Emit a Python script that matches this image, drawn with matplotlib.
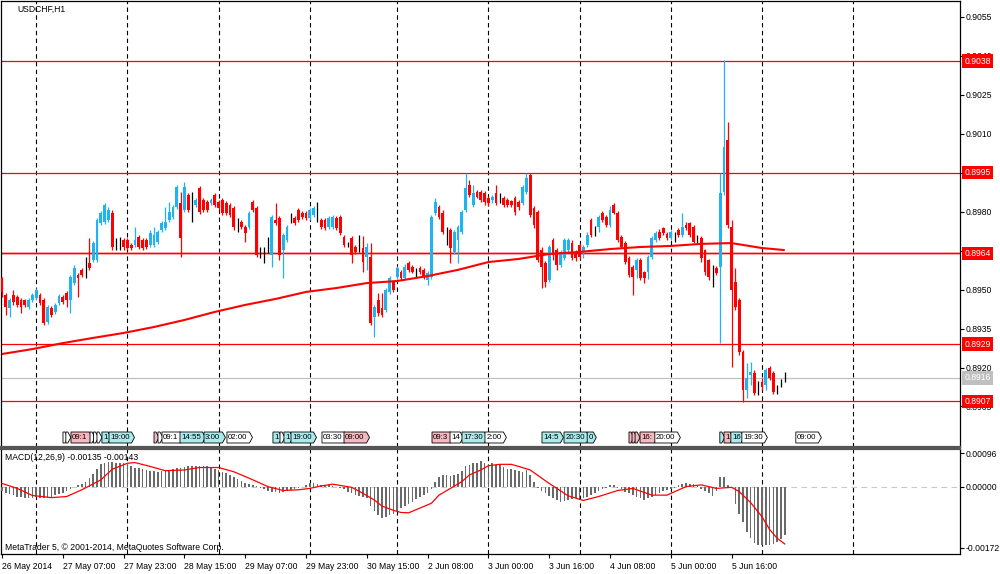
import matplotlib
matplotlib.use('Agg')
import matplotlib.pyplot as plt
import matplotlib.transforms as mtrans
from matplotlib.patches import Polygon
import numpy as np

plt.rcParams['font.family'] = ['Liberation Sans', 'DejaVu Sans']

# ---------------- data ----------------
title_text = "USDCHF,H1"

opens = [0.89545, 0.89479, 0.89429, 0.89479, 0.89472, 0.89460, 0.89460, 0.89433, 0.89460, 0.89468,
         0.89479, 0.89460, 0.89375, 0.89429, 0.89414, 0.89448, 0.89472, 0.89487, 0.89460, 0.89525,
         0.89556, 0.89576, 0.89583, 0.89602, 0.89614, 0.89614, 0.89756, 0.89760, 0.89768, 0.89795,
         0.89664, 0.89672, 0.89691, 0.89691, 0.89672, 0.89672, 0.89703, 0.89691, 0.89691, 0.89672,
         0.89672, 0.89683, 0.89730, 0.89737, 0.89768, 0.89780, 0.89818, 0.89833, 0.89807, 0.89864,
         0.89826, 0.89826, 0.89891, 0.89845, 0.89837, 0.89833, 0.89864, 0.89837, 0.89845, 0.89833,
         0.89826, 0.89814, 0.89749, 0.89760, 0.89741, 0.89741, 0.89837, 0.89814, 0.89633, 0.89652,
         0.89691, 0.89633, 0.89768, 0.89776, 0.89652, 0.89691, 0.89776, 0.89776, 0.89807, 0.89795,
         0.89795, 0.89776, 0.89787, 0.89807, 0.89768, 0.89768, 0.89741, 0.89741, 0.89776, 0.89780,
         0.89703, 0.89672, 0.89699, 0.89664, 0.89652, 0.89660, 0.89626, 0.89626, 0.89395, 0.89460,
         0.89429, 0.89422, 0.89491, 0.89529, 0.89549, 0.89568, 0.89545, 0.89602, 0.89587, 0.89568,
         0.89583, 0.89576, 0.89537, 0.89549, 0.89795, 0.89818, 0.89795, 0.89710, 0.89730, 0.89645,
         0.89691, 0.89722, 0.89807, 0.89903, 0.89826, 0.89876, 0.89876, 0.89872, 0.89853, 0.89845,
         0.89872, 0.89857, 0.89853, 0.89845, 0.89841, 0.89853, 0.89837, 0.89833, 0.89876, 0.89941,
         0.89814, 0.89799, 0.89652, 0.89602, 0.89537, 0.89691, 0.89652, 0.89595, 0.89622, 0.89652,
         0.89679, 0.89645, 0.89672, 0.89645, 0.89672, 0.89768, 0.89730, 0.89741, 0.89795, 0.89780,
         0.89749, 0.89826, 0.89795, 0.89703, 0.89679, 0.89622, 0.89587, 0.89576, 0.89614, 0.89568,
         0.89568, 0.89626, 0.89691, 0.89722, 0.89737, 0.89714, 0.89699, 0.89710, 0.89730, 0.89710,
         0.89749, 0.89756, 0.89741, 0.89691, 0.89699, 0.89652, 0.89614, 0.89556, 0.89583, 0.89587,
         0.89876, 0.90076, 0.89741, 0.89529, 0.89460, 0.89260, 0.89114, 0.89171, 0.89179, 0.89121,
         0.89144, 0.89133, 0.89198, 0.89179, 0.89114, 0.89140, 0.89156]

highs = [0.89549, 0.89487, 0.89468, 0.89499, 0.89479, 0.89468, 0.89464, 0.89468, 0.89487, 0.89506,
         0.89487, 0.89468, 0.89441, 0.89437, 0.89448, 0.89483, 0.89479, 0.89495, 0.89556, 0.89595,
         0.89564, 0.89583, 0.89626, 0.89699, 0.89687, 0.89776, 0.89803, 0.89833, 0.89818, 0.89807,
         0.89699, 0.89703, 0.89699, 0.89699, 0.89679, 0.89741, 0.89710, 0.89699, 0.89699, 0.89730,
         0.89741, 0.89730, 0.89764, 0.89818, 0.89837, 0.89826, 0.89903, 0.89876, 0.89914, 0.89872,
         0.89876, 0.89853, 0.89899, 0.89853, 0.89845, 0.89853, 0.89872, 0.89845, 0.89853, 0.89841,
         0.89833, 0.89822, 0.89776, 0.89768, 0.89749, 0.89803, 0.89845, 0.89822, 0.89664, 0.89664,
         0.89703, 0.89787, 0.89833, 0.89783, 0.89718, 0.89749, 0.89795, 0.89783, 0.89814, 0.89803,
         0.89803, 0.89814, 0.89822, 0.89837, 0.89776, 0.89776, 0.89783, 0.89787, 0.89783, 0.89787,
         0.89710, 0.89683, 0.89706, 0.89672, 0.89710, 0.89706, 0.89679, 0.89679, 0.89441, 0.89487,
         0.89487, 0.89506, 0.89552, 0.89537, 0.89591, 0.89576, 0.89599, 0.89610, 0.89595, 0.89583,
         0.89591, 0.89583, 0.89572, 0.89787, 0.89853, 0.89826, 0.89807, 0.89741, 0.89737, 0.89730,
         0.89749, 0.89807, 0.89949, 0.89922, 0.89903, 0.89884, 0.89884, 0.89880, 0.89860, 0.89864,
         0.89903, 0.89872, 0.89860, 0.89853, 0.89845, 0.89860, 0.89845, 0.89903, 0.89949, 0.89949,
         0.89822, 0.89807, 0.89664, 0.89610, 0.89672, 0.89699, 0.89660, 0.89652, 0.89699, 0.89699,
         0.89691, 0.89652, 0.89679, 0.89672, 0.89722, 0.89776, 0.89745, 0.89787, 0.89803, 0.89787,
         0.89822, 0.89833, 0.89803, 0.89710, 0.89687, 0.89629, 0.89595, 0.89622, 0.89622, 0.89572,
         0.89633, 0.89706, 0.89726, 0.89733, 0.89741, 0.89722, 0.89730, 0.89722, 0.89737, 0.89795,
         0.89760, 0.89760, 0.89749, 0.89710, 0.89706, 0.89656, 0.89618, 0.89595, 0.89591, 0.89949,
         0.90384, 0.90145, 0.89768, 0.89583, 0.89468, 0.89268, 0.89217, 0.89221, 0.89191, 0.89148,
         0.89160, 0.89198, 0.89206, 0.89187, 0.89133, 0.89156, 0.89183]

lows = [0.89472, 0.89402, 0.89395, 0.89441, 0.89433, 0.89410, 0.89433, 0.89425, 0.89452, 0.89460,
        0.89441, 0.89364, 0.89368, 0.89395, 0.89406, 0.89441, 0.89445, 0.89433, 0.89410, 0.89518,
        0.89472, 0.89549, 0.89545, 0.89576, 0.89606, 0.89606, 0.89749, 0.89753, 0.89760, 0.89652,
        0.89652, 0.89652, 0.89652, 0.89652, 0.89652, 0.89664, 0.89656, 0.89652, 0.89656, 0.89664,
        0.89664, 0.89676, 0.89722, 0.89730, 0.89760, 0.89772, 0.89810, 0.89626, 0.89799, 0.89799,
        0.89760, 0.89818, 0.89791, 0.89799, 0.89799, 0.89826, 0.89818, 0.89807, 0.89787, 0.89787,
        0.89780, 0.89730, 0.89722, 0.89733, 0.89683, 0.89733, 0.89799, 0.89626, 0.89622, 0.89602,
        0.89641, 0.89587, 0.89749, 0.89614, 0.89545, 0.89683, 0.89756, 0.89749, 0.89760, 0.89772,
        0.89768, 0.89768, 0.89780, 0.89760, 0.89733, 0.89730, 0.89733, 0.89733, 0.89730, 0.89710,
        0.89664, 0.89664, 0.89602, 0.89637, 0.89645, 0.89568, 0.89576, 0.89364, 0.89318, 0.89398,
        0.89395, 0.89414, 0.89483, 0.89491, 0.89541, 0.89537, 0.89541, 0.89568, 0.89564, 0.89549,
        0.89560, 0.89541, 0.89518, 0.89541, 0.89787, 0.89772, 0.89714, 0.89672, 0.89602, 0.89637,
        0.89602, 0.89714, 0.89799, 0.89857, 0.89818, 0.89853, 0.89837, 0.89826, 0.89822, 0.89833,
        0.89826, 0.89833, 0.89818, 0.89818, 0.89818, 0.89787, 0.89807, 0.89826, 0.89868, 0.89780,
        0.89737, 0.89606, 0.89506, 0.89510, 0.89529, 0.89614, 0.89576, 0.89587, 0.89614, 0.89645,
        0.89614, 0.89610, 0.89618, 0.89622, 0.89664, 0.89703, 0.89706, 0.89722, 0.89760, 0.89741,
        0.89741, 0.89791, 0.89683, 0.89660, 0.89599, 0.89549, 0.89479, 0.89545, 0.89537, 0.89525,
        0.89541, 0.89618, 0.89683, 0.89691, 0.89710, 0.89691, 0.89691, 0.89683, 0.89703, 0.89703,
        0.89730, 0.89703, 0.89679, 0.89679, 0.89606, 0.89556, 0.89537, 0.89510, 0.89556, 0.89294,
        0.89864, 0.89737, 0.89202, 0.89422, 0.89248, 0.89067, 0.89083, 0.89133, 0.89094, 0.89094,
        0.89114, 0.89114, 0.89152, 0.89098, 0.89098, 0.89125, 0.89144]

closes = [0.89491, 0.89433, 0.89460, 0.89452, 0.89441, 0.89433, 0.89441, 0.89460, 0.89479, 0.89499,
          0.89448, 0.89371, 0.89433, 0.89402, 0.89441, 0.89475, 0.89452, 0.89460, 0.89549, 0.89583,
          0.89545, 0.89556, 0.89583, 0.89583, 0.89679, 0.89768, 0.89795, 0.89826, 0.89807, 0.89664,
          0.89664, 0.89672, 0.89664, 0.89660, 0.89660, 0.89691, 0.89664, 0.89660, 0.89664, 0.89718,
          0.89710, 0.89722, 0.89756, 0.89760, 0.89799, 0.89818, 0.89895, 0.89699, 0.89895, 0.89807,
          0.89826, 0.89845, 0.89799, 0.89807, 0.89807, 0.89845, 0.89826, 0.89814, 0.89795, 0.89795,
          0.89787, 0.89741, 0.89749, 0.89741, 0.89718, 0.89795, 0.89807, 0.89633, 0.89633, 0.89652,
          0.89691, 0.89780, 0.89756, 0.89633, 0.89710, 0.89741, 0.89776, 0.89756, 0.89768, 0.89780,
          0.89776, 0.89807, 0.89814, 0.89807, 0.89741, 0.89737, 0.89776, 0.89780, 0.89737, 0.89718,
          0.89672, 0.89672, 0.89633, 0.89645, 0.89652, 0.89606, 0.89664, 0.89371, 0.89433, 0.89410,
          0.89402, 0.89499, 0.89545, 0.89499, 0.89583, 0.89545, 0.89587, 0.89576, 0.89568, 0.89568,
          0.89568, 0.89549, 0.89564, 0.89780, 0.89837, 0.89780, 0.89722, 0.89710, 0.89660, 0.89722,
          0.89741, 0.89799, 0.89891, 0.89864, 0.89872, 0.89857, 0.89845, 0.89837, 0.89833, 0.89857,
          0.89833, 0.89857, 0.89826, 0.89826, 0.89826, 0.89799, 0.89818, 0.89895, 0.89930, 0.89787,
          0.89749, 0.89614, 0.89587, 0.89529, 0.89664, 0.89633, 0.89595, 0.89645, 0.89691, 0.89691,
          0.89622, 0.89622, 0.89626, 0.89664, 0.89710, 0.89710, 0.89730, 0.89780, 0.89768, 0.89749,
          0.89807, 0.89795, 0.89691, 0.89664, 0.89606, 0.89556, 0.89549, 0.89614, 0.89545, 0.89545,
          0.89626, 0.89699, 0.89718, 0.89699, 0.89718, 0.89699, 0.89722, 0.89710, 0.89710, 0.89741,
          0.89737, 0.89710, 0.89683, 0.89691, 0.89622, 0.89568, 0.89549, 0.89556, 0.89564, 0.89872,
          0.90049, 0.89749, 0.89499, 0.89433, 0.89260, 0.89114, 0.89160, 0.89183, 0.89102, 0.89121,
          0.89125, 0.89191, 0.89160, 0.89106, 0.89114, 0.89140, 0.89156]

# moving average (sampled along its path)
ma_bars = [0, 8, 16, 24, 32, 40, 48, 56, 64, 72, 80, 88, 96, 104, 112, 120, 128, 136, 144,
           152, 160, 168, 176, 184, 192, 200, 206]
ma_vals = [0.89252, 0.89271, 0.89294, 0.89314, 0.89333, 0.89356, 0.89383, 0.89414, 0.89441,
           0.89464, 0.89491, 0.89506, 0.89525, 0.89533, 0.89552, 0.89576, 0.89606, 0.89618,
           0.89637, 0.89645, 0.89656, 0.89664, 0.89668, 0.89676, 0.89679, 0.89660, 0.89652]

level_prices = [0.9038, 0.8995, 0.8964, 0.8929, 0.8907]
level_labels = ["0.9038", "0.8995", "0.8964", "0.8929", "0.8907"]
bid_price = 0.8916
bid_label = "0.8916"

price_ticks = [0.9055, 0.9040, 0.9025, 0.9010, 0.8995, 0.8980, 0.8965, 0.8950, 0.8935, 0.8920, 0.8905]
price_tick_labels = ["0.9055", "0.9040", "0.9025", "0.9010", "0.8995", "0.8980", "0.8965",
                     "0.8950", "0.8935", "0.8920", "0.8905"]

macd_hist = [-0.00012, -0.00016, -0.00020, -0.00024, -0.00027, -0.00029, -0.00030, -0.00030, -0.00030, -0.00029,
             -0.00030, -0.00031, -0.00030, -0.00027, -0.00024, -0.00020, -0.00016, -0.00012, -0.00006, -0.00001,
             0.00005, 0.00009, 0.00015, 0.00024, 0.00038, 0.00052, 0.00064, 0.00069, 0.00070, 0.00070,
             0.00069, 0.00069, 0.00068, 0.00063, 0.00058, 0.00055, 0.00053, 0.00050, 0.00048, 0.00046,
             0.00045, 0.00043, 0.00045, 0.00048, 0.00049, 0.00050, 0.00053, 0.00055, 0.00057, 0.00058,
             0.00059, 0.00059, 0.00059, 0.00058, 0.00058, 0.00056, 0.00052, 0.00048, 0.00043, 0.00039,
             0.00034, 0.00029, 0.00023, 0.00018, 0.00011, 0.00008, 0.00006, 0.00002, -0.00002, -0.00006,
             -0.00010, -0.00013, -0.00015, -0.00016, -0.00014, -0.00011, -0.00008, -0.00006, -0.00004, 0.00001,
             0.00006, 0.00010, 0.00012, 0.00009, 0.00007, 0.00006, 0.00005, 0.00004, 0.00001, -0.00003,
             -0.00005, -0.00013, -0.00018, -0.00023, -0.00025, -0.00027, -0.00032, -0.00054, -0.00067, -0.00079,
             -0.00088, -0.00084, -0.00079, -0.00075, -0.00068, -0.00060, -0.00054, -0.00048, -0.00042, -0.00035,
             -0.00027, -0.00023, -0.00016, -0.00007, 0.00013, 0.00027, 0.00033, 0.00035, 0.00031, 0.00035,
             0.00037, 0.00046, 0.00059, 0.00062, 0.00067, 0.00069, 0.00072, 0.00069, 0.00065, 0.00067,
             0.00062, 0.00062, 0.00057, 0.00052, 0.00052, 0.00048, 0.00046, 0.00043, 0.00047, 0.00034,
             0.00015, -0.00004, -0.00010, -0.00016, -0.00025, -0.00030, -0.00037, -0.00042, -0.00040, -0.00037,
             -0.00033, -0.00032, -0.00037, -0.00030, -0.00027, -0.00022, -0.00018, -0.00010, -0.00006, -0.00004,
             0.00006, 0.00006, -0.00002, -0.00006, -0.00013, -0.00018, -0.00023, -0.00028, -0.00032, -0.00037,
             -0.00032, -0.00027, -0.00022, -0.00018, -0.00012, -0.00008, -0.00005, -0.00004, 0.00006, 0.00008,
             0.00010, 0.00009, 0.00008, 0.00003, -0.00006, -0.00012, -0.00018, -0.00025, -0.00010, 0.00029,
             0.00027, 0.00006, -0.00004, -0.00049, -0.00075, -0.00098, -0.00126, -0.00145, -0.00159, -0.00164,
             -0.00163, -0.00163, -0.00163, -0.00160, -0.00155, -0.00148, -0.00135]

signal_bars = [0, 4, 8, 13, 17, 21, 26, 29, 33, 35, 39, 43, 48, 52, 57, 61, 65, 70, 74, 78, 81, 84, 87,
               92, 95, 98, 100, 103, 105, 107, 109, 113, 115, 118, 121, 123, 126, 128, 131, 134, 136,
               139, 144, 149, 153, 157, 162, 166, 171, 175, 180, 184, 188, 192, 194, 197, 200, 202,
               204, 206]
signal_vals = [0.00010, -0.00004, -0.00024, -0.00030, -0.00027, -0.00008, 0.00020, 0.00050, 0.00067,
               0.00069, 0.00058, 0.00046, 0.00048, 0.00055, 0.00055, 0.00043, 0.00025, 0.00001, -0.00010,
               -0.00008, -0.00004, 0.00003, 0.00008, -0.00001, -0.00018, -0.00037, -0.00054, -0.00066,
               -0.00072, -0.00073, -0.00064, -0.00046, -0.00023, -0.00004, 0.00015, 0.00034, 0.00048,
               0.00060, 0.00064, 0.00064, 0.00058, 0.00048, 0.00010, -0.00025, -0.00038, -0.00027,
               -0.00010, -0.00004, -0.00023, -0.00023, 0.00001, 0.00006, -0.00004, -0.00001, -0.00013,
               -0.00044, -0.00084, -0.00120, -0.00145, -0.00161]

macd_ticks = [0.00096, 0.0, -0.00172]
macd_tick_labels = ["0.00096", "0.00000", "-0.00172"]
macd_caption = "MACD(12,26,9) -0.00135 -0.00143"
copyright_text = "MetaTrader 5, \u00a9 2001-2014, MetaQuotes Software Corp."

time_tick_bars = [0, 16, 32, 48, 64, 80, 96, 112, 128, 144, 160, 176, 192]
time_tick_labels = ["26 May 2014", "27 May 07:00", "27 May 23:00", "28 May 15:00", "29 May 07:00",
                    "29 May 23:00", "30 May 15:00", "2 Jun 08:00", "3 Jun 00:00", "3 Jun 16:00",
                    "4 Jun 08:00", "5 Jun 00:00", "5 Jun 16:00"]
day_grid_bars = [9, 33, 57, 81, 104, 128, 152, 176, 200, 224]

event_bars = [16.05, 16.8, 18.16, 23.16, 24.08, 25.0, 26.3, 28.16, 40.0, 41.05, 42.1, 46.84, 53.16,
              59.2, 71.3, 73.16, 74.2, 76.05, 84.2, 90.0, 113.16, 117.9, 121.05, 127.1, 142.1, 147.9,
              154.0, 165.0, 165.8, 166.6, 167.9, 171.8, 188.9, 190.0, 191.8, 194.7, 208.9]
event_texts = ['', '', '09:1', '', '', '', '1', '19:00', '', '', '09:1', '14:55', '3:00', '02:00', '1',
               '', '1', '19:00', '03:30', '09:00', '09:3', '14', '17:30', '2:00', '14:5', '20:30', '0',
               '', '', '', '16:', '20:00', '', '1', '16', '19:30', '09:00']
event_kinds = ['w', 'w', 'p', 'w', 'w', 'w', 'c', 'c', 'p', 'w', 'w', 'c', 'c', 'w', 'c', 'w', 'c', 'c',
               'w', 'p', 'p', 'w', 'c', 'w', 'c', 'c', 'c', 'p', 'p', 'p', 'p', 'w', 'c', 'p', 'c', 'w', 'w']

# ---------------- styles ----------------
BULL = '#1FB3F0'
BEAR = '#FF0000'
DOJI = '#000000'
KIND_COLORS = {'w': '#FFFFFF', 'p': '#F6B8C0', 'c': '#A9EBEB'}
FS = 6.2
PX = 3.8  # pixels per bar

W, H = 1000, 574
fig = plt.figure(figsize=(W / 100, H / 100), dpi=100)
fig.patch.set_facecolor('white')

ax1 = fig.add_axes([1 / W, 1 - 447 / H, 959 / W, 446 / H])
ax2 = fig.add_axes([1 / W, 1 - 554 / H, 959 / W, 105 / H])

xl = (-1 / PX, 958 / PX)
for ax in (ax1, ax2):
    ax.set_xlim(*xl)
    for s in ax.spines.values():
        s.set_color('black')
        s.set_linewidth(0.9)
    ax.set_facecolor('white')
ax1.spines['bottom'].set_color('#555555')
ax1.spines['bottom'].set_linewidth(1.6)
ax2.spines['top'].set_color('#555555')
ax2.spines['top'].set_linewidth(1.6)

ax1.set_ylim(0.88894, 0.90611)
ax2.set_ylim(-0.001893, 0.001073)

# ---------- main panel ----------
for b in day_grid_bars:
    ax1.axvline(b, color='black', lw=0.8, ls=(0, (4, 3)), zorder=1)
    ax2.axvline(b, color='black', lw=0.8, ls=(0, (4, 3)), zorder=1)

for p in level_prices:
    ax1.axhline(p, color='#FF0000', lw=0.9, zorder=2)
ax1.axhline(level_prices[2], color='#FF9090', lw=2.2, zorder=1.9, alpha=0.6)
ax1.axhline(bid_price, color='#C0C0C0', lw=0.9, zorder=2)

n = min(len(opens), len(highs), len(lows), len(closes))
O = np.array(opens[:n]); Hh = np.array(highs[:n]); Ll = np.array(lows[:n]); Cc = np.array(closes[:n])
x = np.arange(n)
cols = np.where(Cc > O, BULL, np.where(Cc < O, BEAR, DOJI))
ax1.vlines(x, Ll, Hh, colors=cols, lw=0.9, zorder=3)
body_h = np.abs(Cc - O)
body_b = np.minimum(Cc, O)
doji = body_h == 0
body_b = np.where(doji, O - 0.000008, body_b)
body_h = np.where(doji, 0.000016, body_h)
ax1.bar(x, body_h, bottom=body_b, width=0.72, color=cols, lw=0, zorder=4)

ax1.plot(ma_bars, ma_vals, color='#FF0000', lw=1.5, zorder=5, solid_capstyle='butt')

ax1.yaxis.tick_right()
ax1.set_yticks(price_ticks)
ax1.set_yticklabels(price_tick_labels)
ax1.tick_params(axis='y', direction='out', length=3, width=0.8, pad=1.2, labelsize=FS, colors='black')
ax1.set_xticks([])

blend1 = mtrans.blended_transform_factory(ax1.transAxes, ax1.transData)
for p, t in zip(level_prices, level_labels):
    ax1.text(1.0045, p, t, transform=blend1, fontsize=FS, color='white', va='center', ha='left',
             zorder=20, clip_on=False,
             bbox=dict(boxstyle='square,pad=0.25', fc='#FF0000', ec='none'))
ax1.text(1.0045, bid_price, bid_label, transform=blend1, fontsize=FS, color='white', va='center',
         ha='left', zorder=20, clip_on=False,
         bbox=dict(boxstyle='square,pad=0.25', fc='#C0C0C0', ec='none'))

ax1.text(16 / 959, (447 - 9) / 446, title_text, transform=ax1.transAxes, fontsize=FS,
         va='center', ha='left', zorder=20)

# event flags
blend_ev = mtrans.blended_transform_factory(ax1.transData, ax1.transAxes)
yb = (447 - 443) / 446
yt = (447 - 432) / 446
ym = (yb + yt) / 2
for k, (b, t, kind) in enumerate(zip(event_bars, event_texts, event_kinds)):
    wpx = 2.0 + 4.1 * len(t) if t else 2.0
    x0 = b
    x1 = b + wpx / PX
    x2 = x1 + 3.0 / PX
    poly = Polygon([(x0, yb), (x1, yb), (x2, ym), (x1, yt), (x0, yt)], closed=True,
                   fc=KIND_COLORS[kind], ec='black', lw=0.6, transform=blend_ev, zorder=30 + 2 * k)
    ax1.add_patch(poly)
    if t:
        ax1.text(x0 + 1.2 / PX, ym, t, transform=blend_ev, fontsize=5.7, va='center', ha='left',
                 zorder=31 + 2 * k)

# ---------- MACD panel ----------
ax2.axhline(0, color='#C8C8C8', lw=0.8, ls=(0, (5, 4)), zorder=1)
hx = np.arange(len(macd_hist))
ax2.bar(hx, macd_hist, width=0.45, color='#6A6A6A', lw=0, zorder=3)
ax2.plot(signal_bars, signal_vals, color='#FF0000', lw=0.9, zorder=4)

ax2.yaxis.tick_right()
ax2.set_yticks(macd_ticks)
ax2.set_yticklabels(macd_tick_labels)
ax2.tick_params(axis='y', direction='out', length=3, width=0.8, pad=1.2, labelsize=FS)

ax2.set_xticks(time_tick_bars)
ax2.set_xticklabels(time_tick_labels)
for lab in ax2.get_xticklabels():
    lab.set_horizontalalignment('left')
ax2.tick_params(axis='x', direction='out', length=3, width=0.8, pad=2.5, labelsize=FS)

ax2.text(4 / 959, (554 - 457) / 105, macd_caption, transform=ax2.transAxes, fontsize=FS,
         va='center', ha='left', zorder=20)
ax2.text(4 / 959, (554 - 547) / 105, copyright_text, transform=ax2.transAxes, fontsize=FS,
         va='center', ha='left', zorder=20)

fig.savefig('out.png', dpi=100, facecolor='white')
